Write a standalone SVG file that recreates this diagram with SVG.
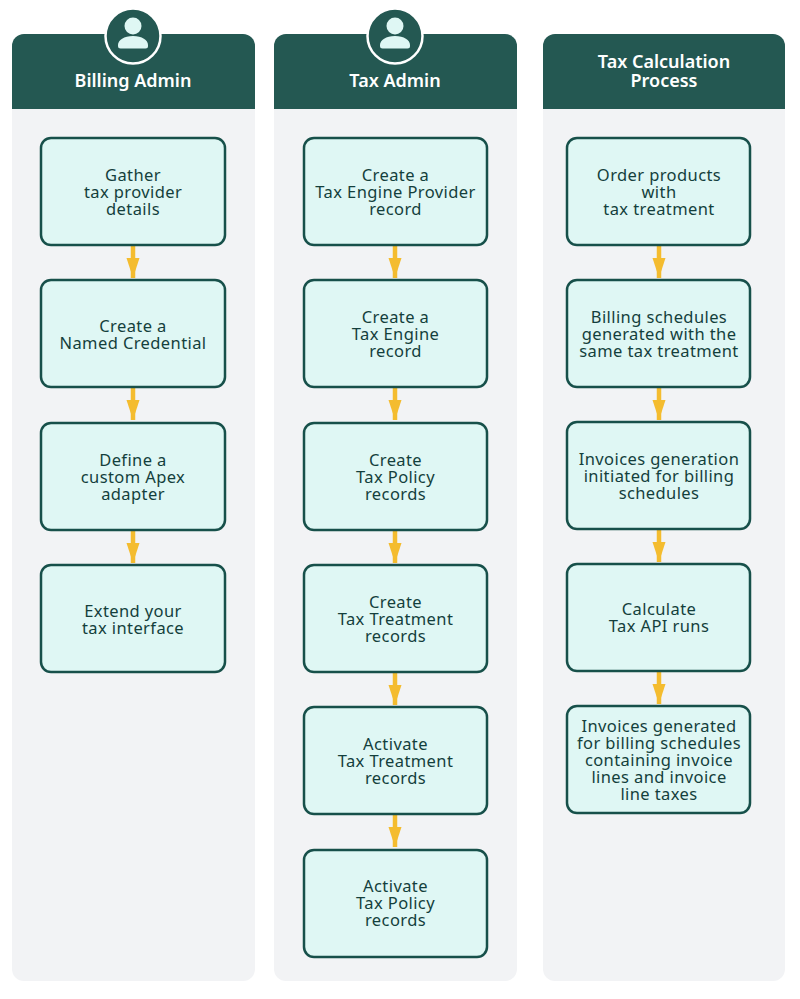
<svg xmlns="http://www.w3.org/2000/svg" width="800" height="999" viewBox="0 0 800 999">
<style>
.panel{fill:#f2f3f5}
.head{fill:#245852}
.box{fill:#dff7f4;stroke:#17504a;stroke-width:2.5}
.t{font-family:"Noto Sans",sans-serif;font-size:16.5px;letter-spacing:.4px;fill:#143f3c;text-anchor:middle}
.h{font-family:"Noto Sans",sans-serif;font-size:18px;font-weight:600;fill:#fff;text-anchor:middle}
.arrow{stroke:#f4bc2f;stroke-width:4.500;fill:none;marker-end:url(#ah)}
.icon{fill:#dff7f4}
</style>
<defs>
<marker id="ah" markerUnits="userSpaceOnUse" markerWidth="20" markerHeight="14" refX="20" refY="7" orient="auto"><path d="M0 .5L20 7L0 13.500Z" fill="#f4bc2f"/></marker>
<g id="person"><circle r="27.500" fill="#245852" stroke="#fff" stroke-width="2.500"/><circle cy="-10" r="8.500" class="icon"/><path class="icon" d="M-12.500 12.500a2.500 2.500 0 0 1-2.500-2.500v-1c0-5 6-9 15-9s15 4 15 9v1a2.500 2.500 0 0 1-2.500 2.500z"/></g>
</defs>
<rect width="800" height="999" fill="#fff"/>
<g id="lane-billing"><rect class="panel" x="12" y="34" width="243" height="947" rx="12"/><path class="head" d="M12 109V46a12 12 0 0 1 12-12H243a12 12 0 0 1 12 12V109Z"/><use href="#person" x="133" y="36"/><text class="h" x="133" y="87">Billing Admin</text></g>
<g id="lane-tax"><rect class="panel" x="274" y="34" width="243" height="947" rx="12"/><path class="head" d="M274 109V46a12 12 0 0 1 12-12H505a12 12 0 0 1 12 12V109Z"/><use href="#person" x="395" y="36"/><text class="h" x="395" y="87">Tax Admin</text></g>
<g id="lane-process"><rect class="panel" x="543" y="34" width="242" height="947" rx="12"/><path class="head" d="M543 109V46a12 12 0 0 1 12-12H773a12 12 0 0 1 12 12V109Z"/><text class="h" x="664" y="68">Tax Calculation</text><text class="h" x="664" y="87">Process</text></g>
<g id="connectors">
<path class="arrow" d="M133 246V278"/><path class="arrow" d="M133 388V420"/><path class="arrow" d="M133 531V563"/>
<path class="arrow" d="M395 246V278"/><path class="arrow" d="M395 388V420"/><path class="arrow" d="M395 531V563"/><path class="arrow" d="M395 673V705"/><path class="arrow" d="M395 815V847"/>
<path class="arrow" d="M659 246V278"/><path class="arrow" d="M659 388V420"/><path class="arrow" d="M659 530V562"/><path class="arrow" d="M659 672V704"/>
</g>
<g id="n1"><rect class="box" x="41" y="138" width="184" height="107" rx="10"/><text class="t" x="133" y="181">Gather</text><text class="t" x="133" y="198">tax provider</text><text class="t" x="133" y="215">details</text></g>
<g id="n2"><rect class="box" x="41" y="280" width="184" height="107" rx="10"/><text class="t" x="133" y="332">Create a</text><text class="t" x="133" y="349">Named Credential</text></g>
<g id="n3"><rect class="box" x="41" y="423" width="184" height="107" rx="10"/><text class="t" x="133" y="466">Define a</text><text class="t" x="133" y="483">custom Apex</text><text class="t" x="133" y="500">adapter</text></g>
<g id="n4"><rect class="box" x="41" y="565" width="184" height="107" rx="10"/><text class="t" x="133" y="617">Extend your</text><text class="t" x="133" y="634">tax interface</text></g>
<g id="n5"><rect class="box" x="304" y="138" width="183" height="107" rx="10"/><text class="t" x="395.500" y="181">Create a</text><text class="t" x="395.500" y="198">Tax Engine Provider</text><text class="t" x="395.500" y="215">record</text></g>
<g id="n6"><rect class="box" x="304" y="280" width="183" height="107" rx="10"/><text class="t" x="395.500" y="323">Create a</text><text class="t" x="395.500" y="340">Tax Engine</text><text class="t" x="395.500" y="357">record</text></g>
<g id="n7"><rect class="box" x="304" y="423" width="183" height="107" rx="10"/><text class="t" x="395.500" y="466">Create</text><text class="t" x="395.500" y="483">Tax Policy</text><text class="t" x="395.500" y="500">records</text></g>
<g id="n8"><rect class="box" x="304" y="565" width="183" height="107" rx="10"/><text class="t" x="395.500" y="608">Create</text><text class="t" x="395.500" y="625">Tax Treatment</text><text class="t" x="395.500" y="642">records</text></g>
<g id="n9"><rect class="box" x="304" y="707" width="183" height="107" rx="10"/><text class="t" x="395.500" y="750">Activate</text><text class="t" x="395.500" y="767">Tax Treatment</text><text class="t" x="395.500" y="784">records</text></g>
<g id="n10"><rect class="box" x="304" y="850" width="183" height="107" rx="10"/><text class="t" x="395.500" y="892">Activate</text><text class="t" x="395.500" y="909">Tax Policy</text><text class="t" x="395.500" y="926">records</text></g>
<g id="n11"><rect class="box" x="567" y="138" width="183" height="107" rx="10"/><text class="t" x="659" y="181">Order products</text><text class="t" x="659" y="198">with</text><text class="t" x="659" y="215">tax treatment</text></g>
<g id="n12"><rect class="box" x="567" y="280" width="183" height="107" rx="10"/><text class="t" x="659" y="323">Billing schedules</text><text class="t" x="659" y="340">generated with the</text><text class="t" x="659" y="357">same tax treatment</text></g>
<g id="n13"><rect class="box" x="567" y="422" width="183" height="107" rx="10"/><text class="t" x="659" y="465">Invoices generation</text><text class="t" x="659" y="482">initiated for billing</text><text class="t" x="659" y="499">schedules</text></g>
<g id="n14"><rect class="box" x="567" y="564" width="183" height="107" rx="10"/><text class="t" x="659" y="615">Calculate</text><text class="t" x="659" y="632">Tax API runs</text></g>
<g id="n15"><rect class="box" x="567" y="706" width="183" height="107" rx="10"/><text class="t" x="659" y="732">Invoices generated</text><text class="t" x="659" y="749">for billing schedules</text><text class="t" x="659" y="766">containing invoice</text><text class="t" x="659" y="783">lines and invoice</text><text class="t" x="659" y="800">line taxes</text></g>
</svg>
